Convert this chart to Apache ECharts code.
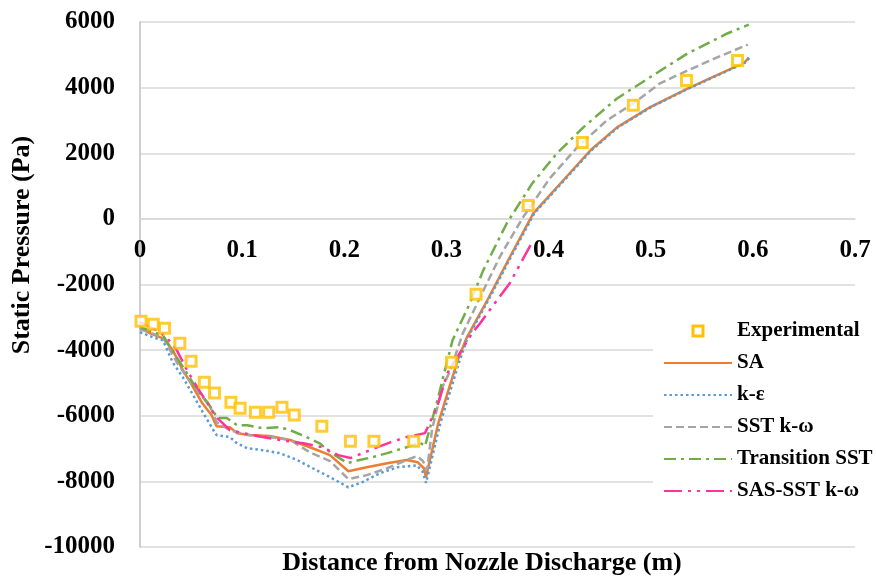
<!DOCTYPE html>
<html>
<head>
<meta charset="utf-8">
<script src="https://cdn.jsdelivr.net/npm/echarts@6/dist/echarts.min.js"></script>
<style>html,body{margin:0;padding:0;background:#fff}#c{width:876px;height:582px}</style>
</head>
<body>
<div id="c"></div>
<script>
// ---- Data ----
var xTicks = [0, 0.1, 0.2, 0.3, 0.4, 0.5, 0.6, 0.7];
var yTicks = [-10000, -8000, -6000, -4000, -2000, 0, 2000, 4000, 6000];

var expX = [0.001,0.013,0.024,0.039,0.050,0.063,0.073,0.089,0.098,0.113,0.126,0.139,0.151,0.178,0.206,0.229,0.268,0.305,0.329,0.380,0.433,0.483,0.535,0.585];
var expY = [-3120,-3210,-3330,-3790,-4340,-4980,-5310,-5590,-5770,-5890,-5890,-5740,-5980,-6320,-6780,-6780,-6780,-4370,-2300,410,2330,3460,4220,4830];

var saX = [0,0.010,0.0225,0.032,0.042,0.052,0.061,0.070,0.075,0.088,0.095,0.108,0.127,0.147,0.169,0.186,0.204,0.222,0.242,0.261,0.272,0.278,0.280,0.292,0.302,0.311,0.320,0.340,0.362,0.385,0.416,0.441,0.467,0.499,0.536,0.581,0.592,0.596];
var saY = [-3300,-3490,-3640,-4000,-4610,-5130,-5620,-5980,-6320,-6350,-6530,-6590,-6620,-6740,-6990,-7200,-7690,-7570,-7450,-7350,-7420,-7600,-7870,-6230,-5220,-4310,-3610,-2480,-1170,170,1230,2090,2790,3400,3970,4610,4770,4920];

var keX = [0,0.0127,0.0225,0.032,0.042,0.052,0.062,0.073,0.075,0.088,0.095,0.105,0.120,0.137,0.154,0.169,0.186,0.204,0.218,0.235,0.252,0.271,0.277,0.280,0.294,0.304,0.313,0.321,0.341,0.363,0.386,0.417,0.442,0.468,0.500,0.537,0.582,0.593,0.597];
var keY = [-3450,-3610,-3700,-4370,-4830,-5370,-5920,-6500,-6590,-6650,-6840,-6990,-7050,-7140,-7350,-7600,-7870,-8180,-8020,-7750,-7570,-7510,-7720,-8050,-6230,-5220,-4310,-3610,-2480,-1170,170,1230,2090,2790,3400,3970,4610,4770,4920];

var sstX = [0,0.0225,0.036,0.046,0.056,0.069,0.075,0.088,0.105,0.127,0.147,0.166,0.186,0.204,0.222,0.242,0.261,0.271,0.277,0.281,0.286,0.296,0.304,0.316,0.333,0.352,0.375,0.401,0.428,0.457,0.483,0.509,0.536,0.565,0.595];
var sstY = [-3360,-3610,-4370,-4830,-5220,-5740,-6200,-6440,-6590,-6650,-6740,-7110,-7380,-7930,-7810,-7600,-7350,-7230,-7380,-7660,-6400,-5130,-4610,-3490,-2390,-1170,50,1230,2180,3000,3520,4130,4520,4920,5310];

var trX = [0,0.0225,0.036,0.046,0.056,0.066,0.076,0.085,0.095,0.105,0.120,0.137,0.147,0.163,0.176,0.186,0.203,0.215,0.228,0.242,0.261,0.274,0.279,0.292,0.296,0.306,0.323,0.336,0.359,0.384,0.408,0.434,0.467,0.499,0.536,0.575,0.596];
var trY = [-3300,-3550,-4220,-4700,-5220,-5590,-6070,-6070,-6290,-6290,-6380,-6350,-6440,-6650,-6840,-7110,-7440,-7350,-7260,-7140,-6960,-6810,-6930,-5440,-4920,-3700,-2570,-1570,-140,1080,1990,2790,3670,4310,5040,5650,5920];

var sasX = [0,0.0166,0.026,0.036,0.046,0.056,0.066,0.075,0.088,0.101,0.120,0.137,0.160,0.179,0.194,0.206,0.225,0.245,0.261,0.279,0.291,0.301,0.325,0.333,0.346,0.362,0.385];
var sasY = [-3150,-3400,-3610,-4000,-4610,-5130,-5620,-6050,-6440,-6530,-6650,-6740,-6840,-6960,-7200,-7290,-7050,-6810,-6650,-6530,-5710,-4700,-3490,-3180,-2630,-1960,-650];

var names = ['Experimental','SA','k-\u03b5','SST k-\u03c9','Transition SST','SAS-SST k-\u03c9'];

function zip(a, b) { return a.map(function (v, i) { return [v, b[i]]; }); }

var FONT = 'Liberation Serif, Times New Roman, serif';
var GRID_TOP = 22, GRID_BOTTOM = 35, H = 582;
var yMin = yTicks[0], yMax = yTicks[yTicks.length - 1];
var plotH = H - GRID_TOP - GRID_BOTTOM;
// distance (px) from bottom of plot up to the zero line, so x axis sits on y = 0
var zeroOffset = plotH * (0 - yMin) / (yMax - yMin);

var chart = echarts.init(document.getElementById('c'), null, {renderer: 'canvas'});

function lineSeries(name, xs, ys, color, type, width, z) {
  return {
    name: name, type: 'line', data: zip(xs, ys), symbol: 'none', showSymbol: false,
    smooth: false, z: z,
    lineStyle: {color: color, width: width, type: type, cap: 'butt'},
    itemStyle: {color: color}
  };
}

chart.setOption({
  animation: false,
  backgroundColor: '#fff',
  grid: {left: 140, right: 21, top: GRID_TOP, bottom: GRID_BOTTOM, containLabel: false},
  xAxis: {
    type: 'value', min: xTicks[0], max: xTicks[xTicks.length - 1], interval: 0.1,
    position: 'bottom', offset: -zeroOffset,
    axisLine: {show: true, onZero: false, lineStyle: {color: '#D9D9D9', width: 1.5}},
    axisTick: {show: false},
    splitLine: {show: false},
    axisLabel: {
      show: true, margin: 19, color: '#000', fontFamily: FONT, fontWeight: 'bold', fontSize: 25,
      showMinLabel: true, showMaxLabel: true, hideOverlap: false,
      formatter: function (v) { return String(Math.round(v * 10) / 10); }
    }
  },
  yAxis: {
    type: 'value', min: yMin, max: yMax, interval: 2000,
    axisLine: {show: true, onZero: false, lineStyle: {color: '#BFBFBF', width: 1.5}},
    axisTick: {show: false},
    splitLine: {show: true, lineStyle: {color: '#D9D9D9', width: 1.5}},
    axisLabel: {
      margin: 25, color: '#000', fontFamily: FONT, fontWeight: 'bold', fontSize: 25,
      formatter: function (v) { return String(v); }
    }
  },
  legend: {
    orient: 'vertical', left: 653, top: 309, padding: [10, 10, 10, 10],
    backgroundColor: '#fff', itemWidth: 68, itemHeight: 10, itemGap: 8,
    symbolKeepAspect: true,
    textStyle: {color: '#000', fontFamily: FONT, fontWeight: 'bold', fontSize: 21, lineHeight: 24},
    data: [
      {name: names[0], icon: 'path://M0,0L10,0L10,10L0,10Z',
       itemStyle: {color: '#fff', borderColor: '#FFC000', borderWidth: 3, opacity: 1}},
      {name: names[1], itemStyle: {opacity: 0}},
      {name: names[2], itemStyle: {opacity: 0}},
      {name: names[3], itemStyle: {opacity: 0}},
      {name: names[4], itemStyle: {opacity: 0}},
      {name: names[5], itemStyle: {opacity: 0}}
    ]
  },
  graphic: [
    {type: 'text', x: 22, y: 245, rotation: Math.PI / 2, z: 10,
     style: {text: 'Static Pressure (Pa)', fill: '#000', font: 'bold 26px ' + FONT,
             align: 'center', verticalAlign: 'middle', textAlign: 'center', textVerticalAlign: 'middle'}},
    {type: 'text', x: 482, y: 563, z: 10,
     style: {text: 'Distance from Nozzle Discharge (m)', fill: '#000', font: 'bold 26px ' + FONT,
             align: 'center', verticalAlign: 'middle', textAlign: 'center', textVerticalAlign: 'middle'}}
  ],
  series: [
    {
      name: names[0], type: 'scatter', data: zip(expX, expY), symbol: 'rect', symbolSize: 10, z: 5,
      itemStyle: {color: '#fff', borderColor: '#FFC000', borderWidth: 3}
    },
    lineSeries(names[1], saX, saY, '#ED7D31', 'solid', 2.5, 3),
    lineSeries(names[2], keX, keY, '#5B9BD5', [2.5, 3], 2.5, 3),
    lineSeries(names[3], sstX, sstY, '#A5A5A5', [8, 4], 2.5, 3),
    lineSeries(names[4], trX, trY, '#70AD47', [12, 5, 3, 5], 2.5, 3),
    lineSeries(names[5], sasX, sasY, '#FF3399', [18, 6, 3, 6, 3, 6], 2.5, 3)
  ]
});
</script>
</body>
</html>
